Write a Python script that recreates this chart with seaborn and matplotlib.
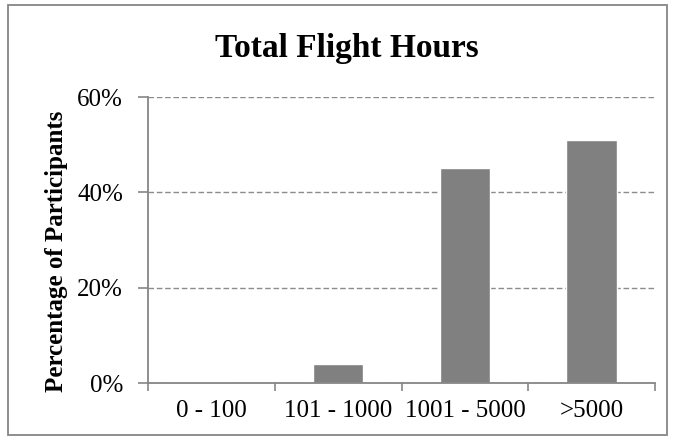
import numpy as np
import pandas as pd
import seaborn as sns
import matplotlib.pyplot as plt
from matplotlib.patches import Rectangle
from matplotlib.ticker import FixedLocator, PercentFormatter

categories = ["0 - 100", "101 - 1000", "1001 - 5000", ">5000"]
percentages = [0.0, 3.9, 45.1, 50.9]

df = pd.DataFrame({"hours": categories, "pct": percentages})

sns.set_style("white")
plt.rcParams["font.family"] = ["Liberation Serif", "DejaVu Serif"]
plt.rcParams["text.color"] = "black"
plt.rcParams["xtick.color"] = "#868686"
plt.rcParams["ytick.color"] = "#868686"
plt.rcParams["xtick.labelcolor"] = "black"
plt.rcParams["ytick.labelcolor"] = "black"

fig = plt.figure(figsize=(6.75, 4.4), dpi=100)
ax = fig.add_axes([0.2193, 0.1295, 0.7511, 0.65])

sns.barplot(data=df, x="hours", y="pct", color="#808080", saturation=1,
            width=0.4, ax=ax, zorder=3)

ax.set_ylim(0, 60)
ax.set_xlim(-0.5, 3.5)
ax.set_yticks([0, 20, 40, 60])
ax.yaxis.set_major_formatter(PercentFormatter(decimals=0))
ax.yaxis.grid(True, linestyle=(0, (4, 2)), color="#8c8c8c", linewidth=1, zorder=0)

# category boundary ticks on x axis
ax.xaxis.set_minor_locator(FixedLocator(np.arange(-0.5, 4, 1)))
ax.tick_params(axis="x", which="major", bottom=False, length=0, labelsize=18, pad=12)
ax.tick_params(axis="x", which="minor", bottom=True, length=6, width=1.2, direction="out")
ax.tick_params(axis="y", left=True, length=7, width=1.2, direction="out", labelsize=18, pad=11)

for s in ["top", "right"]:
    ax.spines[s].set_visible(False)
for s in ["left", "bottom"]:
    ax.spines[s].set_color("#868686")
    ax.spines[s].set_linewidth(1.3)
    ax.spines[s].set_zorder(4)

ax.set_xlabel("")
ax.set_ylabel("")
fig.text(57 / 675, 1 - 251 / 440, "Percentage of Participants", rotation=90,
         ha="center", va="center", fontsize=18, fontweight="bold")
fig.text(347 / 675, 1 - 57 / 440, "Total Flight Hours", ha="center", va="baseline",
         fontsize=24, fontweight="bold")

fig.patches.append(Rectangle((8 / 675, 5 / 440), 659 / 675, 430 / 440,
                             transform=fig.transFigure, fill=False,
                             edgecolor="#868686", linewidth=1.3))

fig.savefig("out.png", dpi=100)
